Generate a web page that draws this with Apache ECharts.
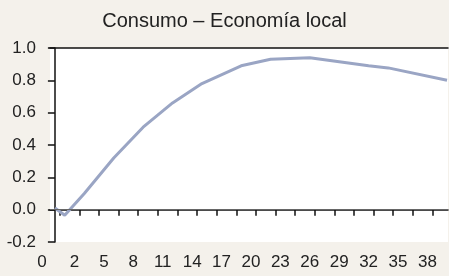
<!DOCTYPE html>
<html>
<head>
<meta charset="utf-8">
<script src="https://cdn.jsdelivr.net/npm/echarts@6/dist/echarts.min.js"></script>
<style>
html,body{margin:0;padding:0;background:#f4f1eb;}
#main{width:449px;height:276px;}
</style>
</head>
<body>
<div id="main"></div>
<script>
var titulo = 'Consumo – Economía local';
// periodos donde la curva cambia de pendiente
var periodos = [0, 1, 3, 6, 9, 12, 15, 19, 22, 26, 29, 32, 34, 40];
var consumo = [0.01, -0.035, 0.10, 0.32, 0.51, 0.66, 0.78, 0.89, 0.93, 0.94, 0.915, 0.89, 0.877, 0.80];
var marcasX = [0.5, 2.5, 4.5, 6.5, 8.5, 10.5, 12.5, 14.5, 16.5, 18.5, 20.5, 22.5, 24.5, 26.5, 28.5, 30.5, 32.5, 34.5, 36.5, 38.5];
var etiquetasX = ['0', '2', '5', '8', '11', '14', '17', '20', '23', '26', '29', '32', '35', '38'];
var posEtiquetasX = [-0.5, 2, 5, 8, 11, 14, 17, 20, 23, 26, 29, 32, 35, 38];

var fuente = '"Liberation Sans Narrow", "Liberation Sans", sans-serif';
var myChart = echarts.init(document.getElementById('main'));

var puntos = [];
for (var i = 0; i < periodos.length; i++) {
	puntos.push([periodos[i], consumo[i]]);
}

var option = {
	backgroundColor: '#f4f1eb',
	animation: false,
	title: {
		text: titulo,
		left: 'center',
		top: 6,
		textStyle: {fontFamily: fuente, fontSize: 20, fontWeight: 'normal', color: '#222'}
	},
	grid: {
		left: 50, right: 1, top: 48, bottom: 34,
		show: true, backgroundColor: '#fff', borderWidth: 0
	},
	xAxis: [{
		type: 'value',
		min: -0.5,
		max: 40.1,
		axisLine: {lineStyle: {color: '#111', width: 1.5}},
		axisTick: {length: 6, customValues: marcasX, lineStyle: {color: '#111', width: 1.5}},
		splitLine: {show: false},
		axisLabel: {
			customValues: posEtiquetasX,
			margin: 12,
			fontFamily: fuente,
			fontSize: 17,
			color: '#222',
			formatter: function (v) {
				var k = posEtiquetasX.indexOf(v);
				if (v < 0) return '{cero|' + etiquetasX[k] + '}';
				return etiquetasX[k];
			},
			rich: {cero: {fontFamily: fuente, fontSize: 17, color: '#222', padding: [0, 16, 0, 0]}}
		}
	}, {
		type: 'value',
		position: 'top',
		min: -0.5,
		max: 40.1,
		axisLine: {show: true, lineStyle: {color: '#111', width: 1.5}},
		axisTick: {show: false},
		axisLabel: {show: false},
		splitLine: {show: false}
	}],
	yAxis: {
		type: 'value',
		min: -0.2,
		max: 1.0,
		interval: 0.2,
		axisLine: {show: true, lineStyle: {color: '#111', width: 1.5}},
		axisTick: {show: true, length: 7, lineStyle: {color: '#111', width: 1.5}},
		splitLine: {show: false},
		axisLabel: {
			margin: 14,
			fontFamily: fuente,
			fontSize: 17,
			color: '#222',
			formatter: function (v) { return v.toFixed(1); }
		}
	},
	series: [{
		name: 'Consumo',
		type: 'line',
		data: puntos,
		symbol: 'none',
		lineStyle: {color: '#9aa5c4', width: 3},
		markLine: {
			silent: true,
			symbol: 'none',
			label: {show: false},
			lineStyle: {color: '#666', width: 1.2, type: 'solid'},
			data: [{yAxis: 0}]
		}
	}]
};
myChart.setOption(option);
</script>
</body>
</html>
